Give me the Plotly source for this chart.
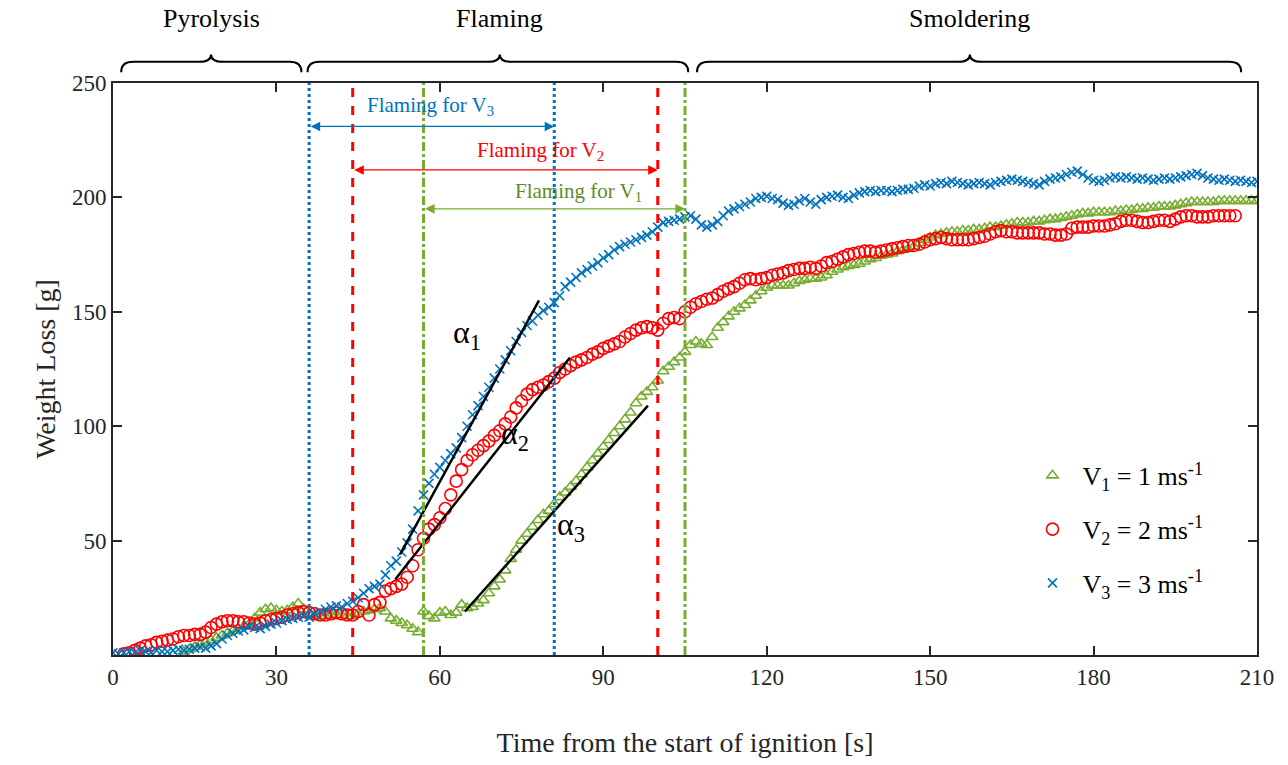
import plotly.graph_objects as go

# ---------------- data ----------------
t_v3 = list(range(0, 211))
w_v3 = [1.0, 0.5, 1.0, 1.5, 1.0, 2.0, 1.5, 1.0, 2.0, 1.5,
        1.5, 2.0, 2.5, 2.0, 2.5, 3.0, 3.5, 3.0, 4.0, 5.0,
        7.0, 8.5, 9.5, 10.5, 11.0, 12.5, 12.0, 11.5, 12.5, 13.5,
        14.0, 15.0, 15.5, 16.0, 16.5, 17.0, 16.5, 18.0, 19.0, 20.0,
        21.0, 21.5, 21.0, 22.5, 23.5, 25.0, 27.0, 29.0, 30.0, 31.0,
        35.0, 39.0, 41.0, 45.0, 49.0, 55.0, 63.0, 70.0, 75.0, 79.0,
        82.0, 85.0, 88.0, 90.5, 95.0, 100.0, 105.0, 109.0, 113.0, 117.0,
        121.0, 125.0, 129.0, 133.0, 137.0, 141.0, 144.0, 146.0, 148.5, 150.5,
        152.0, 154.0, 157.0, 161.0, 163.0, 165.0, 167.0, 168.5, 170.0, 171.5,
        173.5, 175.0, 177.0, 178.5, 179.5, 180.5, 181.5, 182.5, 183.5, 185.0,
        187.0, 189.0, 189.5, 190.0, 190.5, 191.5, 192.0, 190.5, 188.0, 187.0,
        188.0, 189.5, 192.0, 194.0, 195.0, 196.0, 197.0, 198.0, 199.5, 200.0,
        200.5, 199.5, 199.0, 197.5, 196.5, 197.0, 198.5, 199.5, 198.0, 197.0,
        199.0, 200.0, 200.5, 201.0, 200.0, 199.5, 201.0, 202.0, 202.5, 203.0,
        202.5, 203.0, 203.0, 202.5, 203.0, 203.5, 203.5, 204.0, 205.0, 205.5,
        205.0, 206.0, 206.5, 206.0, 207.0, 206.5, 206.0, 205.5, 206.0, 206.5,
        206.0, 205.5, 206.5, 207.0, 207.5, 208.0, 207.5, 207.0, 206.5, 206.0,
        205.5, 207.0, 208.0, 208.5, 209.0, 210.0, 211.0, 211.5, 210.0, 208.5,
        207.5, 207.0, 207.5, 208.5, 209.0, 208.5, 209.0, 208.5, 208.0, 208.5,
        208.0, 207.5, 208.0, 208.5, 208.0, 208.5, 209.0, 209.5, 210.0, 210.5,
        209.5, 208.5, 208.0, 207.5, 208.0, 207.5, 207.0, 207.5, 207.0, 206.5,
        207.0]

t_v2 = list(range(2, 207))
w_v2 = [0.5, 1.0, 2.0, 3.0, 4.0, 4.5, 5.5, 6.0, 6.5, 7.0,
        8.0, 8.5, 8.5, 9.0, 9.0, 10.0, 12.0, 13.5, 14.5, 15.0,
        15.0, 14.5, 14.5, 14.0, 13.5, 14.0, 15.0, 15.5, 16.0, 16.5,
        17.5, 18.0, 18.5, 19.0, 18.5, 18.0, 17.5, 17.5, 18.0, 18.5,
        18.0, 17.5, 17.5, 19.0, 22.0, 17.5, 22.0, 23.0, 28.0, 29.0,
        30.0, 31.0, 34.0, 39.0, 46.0, 51.0, 55.0, 57.0, 60.0, 64.0,
        70.0, 76.0, 81.0, 85.0, 87.5, 89.5, 91.5, 93.5, 96.0, 98.0,
        101.0, 104.0, 108.0, 111.0, 114.0, 116.0, 117.0, 118.0, 119.5, 121.0,
        123.5, 125.0, 126.5, 128.0, 129.0, 130.0, 131.5, 132.5, 134.0, 135.0,
        136.0, 137.0, 139.0, 140.5, 142.0, 143.0, 143.5, 143.0, 142.0, 145.0,
        147.0, 147.5, 147.0, 150.0, 152.0, 153.5, 154.5, 155.5, 156.0, 157.5,
        159.0, 160.0, 161.0, 162.5, 164.0, 164.5, 164.0, 164.5, 165.0, 166.0,
        166.5, 167.0, 168.0, 168.5, 169.0, 169.0, 169.5, 169.0, 170.0, 171.5,
        172.0, 173.0, 174.0, 175.0, 175.5, 176.0, 176.5, 176.5, 176.0, 176.5,
        177.0, 177.5, 178.0, 178.5, 179.0, 179.0, 179.5, 180.5, 181.5, 182.0,
        182.5, 182.0, 181.5, 181.5, 181.5, 181.5, 182.0, 182.5, 183.0, 184.0,
        185.0, 185.5, 185.0, 185.0, 184.5, 184.5, 184.5, 184.5, 184.5, 184.0,
        184.0, 183.5, 183.5, 184.0, 186.5, 187.0, 187.0, 187.0, 187.5, 187.5,
        187.5, 188.0, 188.5, 189.5, 190.0, 190.0, 189.5, 189.0, 189.0, 189.5,
        190.0, 190.0, 189.5, 190.5, 191.5, 192.0, 192.0, 191.5, 191.5, 191.5,
        192.0, 192.0, 192.0, 192.0, 192.0]

t_v1 = list(range(13, 211))
w_v1 = [1.5, 2.5, 3.5, 4.5, 5.5, 6.5, 7.5, 8.5, 9.5, 10.5,
        11.5, 12.5, 13.5, 16.0, 18.5, 20.0, 20.5, 19.5, 19.0, 19.5,
        21.0, 22.5, 20.0, 17.5, 17.0, 17.0, 17.0, 17.5, 17.5, 17.5,
        17.0, 17.0, 18.0, 19.0, 19.5, 20.0, 20.5, 19.0, 16.0, 15.0,
        14.0, 13.0, 11.5, 10.0, 19.0, 17.0, 16.0, 18.5, 19.0, 17.5,
        18.5, 22.0, 20.5, 21.0, 22.5, 24.0, 27.0, 30.0, 33.0, 37.0,
        42.0, 46.0, 50.0, 53.0, 56.0, 59.0, 61.5, 63.0, 66.0, 69.0,
        71.0, 73.5, 76.0, 79.0, 82.0, 85.0, 88.0, 91.0, 94.0, 97.0,
        100.0, 103.0, 106.0, 110.0, 113.0, 115.0, 117.0, 120.0, 124.0, 126.0,
        128.0, 130.0, 132.5, 135.5, 137.0, 136.0, 135.5, 139.0, 143.0, 145.5,
        148.0, 150.0, 151.5, 153.0, 155.0, 157.0, 159.0, 160.5, 161.5, 161.5,
        161.5, 161.5, 162.5, 163.5, 164.0, 164.5, 164.5, 165.0, 166.0, 167.5,
        168.5, 169.5, 170.0, 170.5, 171.0, 172.0, 173.0, 173.5, 174.5, 175.0,
        175.5, 176.5, 177.0, 177.5, 178.5, 180.0, 181.5, 182.5, 183.5, 184.0,
        184.5, 185.0, 185.0, 185.5, 185.5, 186.0, 186.0, 186.5, 187.0, 187.0,
        187.5, 188.0, 188.5, 189.0, 189.0, 189.0, 189.5, 189.5, 190.0, 190.5,
        190.5, 191.0, 191.5, 192.0, 192.5, 193.0, 193.0, 193.5, 193.5, 193.5,
        193.5, 194.0, 194.0, 194.5, 194.5, 195.0, 195.0, 195.5, 195.5, 196.0,
        196.0, 196.0, 196.5, 197.0, 197.5, 198.0, 198.0, 198.0, 198.0, 198.0,
        198.5, 198.5, 198.5, 198.5, 198.5, 198.5, 198.5, 198.5]

# tangent (slope) lines alpha_1..alpha_3: [x0, x1], [y0, y1]
tan1_t, tan1_w = [52.7, 78.2], [44.0, 155.0]
tan2_t, tan2_w = [51.8, 83.9], [33.0, 130.0]
tan3_t, tan3_w = [64.6, 98.2], [19.0, 109.0]

# flaming period boundaries [start, end] and arrow heights
flame_v3 = [36, 81]
flame_v2 = [44, 100]
flame_v1 = [57, 105]
arrow_y = {"v3": 231, "v2": 212, "v1": 195}

# phase brackets [start, tip, end]
phases = [("Pyrolysis", 1.5, 18.0, 34.6),
          ("Flaming", 35.7, 71.0, 105.6),
          ("Smoldering", 107.2, 157.3, 207.1)]

x_ticks = [0, 30, 60, 90, 120, 150, 180, 210]
y_ticks = [50, 100, 150, 200, 250]

C_GREEN = "#77AC30"
C_RED = "#FF0000"
C_BLUE = "#0072BD"
FONT = "Liberation Serif"
TXT = "#262626"

fig = go.Figure()

fig.add_trace(go.Scatter(
    x=t_v1, y=w_v1, mode="markers", name="V<sub>1</sub> = 1 ms<sup>-1</sup>",
    legendgroup="g1",
    marker=dict(symbol="triangle-up-open", size=10, color=C_GREEN,
                line=dict(width=1.6, color=C_GREEN))))
fig.add_trace(go.Scatter(
    x=t_v2, y=w_v2, mode="markers", name="V<sub>2</sub> = 2 ms<sup>-1</sup>",
    legendgroup="g2",
    marker=dict(symbol="circle-open", size=12, color=C_RED,
                line=dict(width=1.6, color=C_RED))))
fig.add_trace(go.Scatter(
    x=t_v3, y=w_v3, mode="markers", name="V<sub>3</sub> = 3 ms<sup>-1</sup>",
    legendgroup="g3",
    marker=dict(symbol="x-thin-open", size=9, color=C_BLUE,
                line=dict(width=1.6, color=C_BLUE))))

for tt, ww in [(tan1_t, tan1_w), (tan2_t, tan2_w), (tan3_t, tan3_w)]:
    fig.add_trace(go.Scatter(x=tt, y=ww, mode="lines", showlegend=False,
                             line=dict(color="black", width=2.5)))

# vertical boundary lines
for xs, col, dash in [(flame_v3, C_BLUE, "dot"), (flame_v2, C_RED, "dash"),
                      (flame_v1, C_GREEN, "dashdot")]:
    for xv in xs:
        fig.add_shape(type="line", xref="x", yref="y", x0=xv, x1=xv, y0=0, y1=250,
                      line=dict(color=col, width=3, dash=dash))

annos = []
# double arrows
for key, rng, col in [("v3", flame_v3, C_BLUE), ("v2", flame_v2, C_RED),
                      ("v1", flame_v1, C_GREEN)]:
    yv = arrow_y[key]
    annos.append(dict(x=rng[1], y=yv, ax=rng[0], ay=yv, xref="x", yref="y",
                      axref="x", ayref="y", text="", showarrow=True,
                      arrowhead=2, startarrowhead=2, arrowside="end+start",
                      arrowsize=1.6, arrowwidth=1.2, arrowcolor=col))
annos.append(dict(x=58.3, y=240, xref="x", yref="y", showarrow=False,
                  text="Flaming for V<sub>3</sub>",
                  font=dict(family=FONT, size=21, color=C_BLUE)))
annos.append(dict(x=78.5, y=220.5, xref="x", yref="y", showarrow=False,
                  text="Flaming for V<sub>2</sub>",
                  font=dict(family=FONT, size=21, color=C_RED)))
annos.append(dict(x=85.5, y=202.5, xref="x", yref="y", showarrow=False,
                  text="Flaming for V<sub>1</sub>",
                  font=dict(family=FONT, size=21, color="#5E8A2A")))
# alpha labels
for xa, ya, lab in [(65.0, 140, "α<sub>1</sub>"), (73.8, 96, "α<sub>2</sub>"),
                    (84.0, 56, "α<sub>3</sub>")]:
    annos.append(dict(x=xa, y=ya, xref="x", yref="y", showarrow=False, text=lab,
                      font=dict(family=FONT, size=32, color="black")))

# phase brackets
for name, a, m, b in phases:
    y_end, y_bar, y_tip = 1.019, 1.037, 1.050
    d = 2.2
    path = (f"M {a},{y_end} Q {a},{y_bar} {a+d},{y_bar} L {m-d},{y_bar} "
            f"Q {m},{y_bar} {m},{y_tip} Q {m},{y_bar} {m+d},{y_bar} "
            f"L {b-d},{y_bar} Q {b},{y_bar} {b},{y_end}")
    fig.add_shape(type="path", xref="x", yref="paper", path=path,
                  line=dict(color="black", width=2))
    annos.append(dict(x=m, y=1.112, xref="x", yref="paper", showarrow=False,
                      text=name, yanchor="middle",
                      font=dict(family=FONT, size=26, color="black")))

fig.update_layout(
    width=1288, height=765,
    margin=dict(l=113, r=31, t=83, b=110),
    paper_bgcolor="white", plot_bgcolor="white",
    font=dict(family=FONT, size=22, color=TXT),
    annotations=annos,
    showlegend=True,
    legend=dict(x=0.795, y=0.355, xanchor="left", yanchor="top",
                bgcolor="rgba(255,255,255,0)", borderwidth=0,
                font=dict(family=FONT, size=26, color="black"),
                itemwidth=50, tracegroupgap=17),
)
fig.update_xaxes(range=[0, 210], tickvals=x_ticks, ticks="inside", ticklen=9,
                 tickwidth=1.5, tickcolor=TXT, showline=True, linewidth=2,
                 linecolor=TXT, mirror="ticks", showgrid=False, zeroline=False,
                 tickfont=dict(family=FONT, size=23, color=TXT),
                 title=dict(text="Time from the start of ignition [s]", standoff=44,
                            font=dict(family=FONT, size=28, color=TXT)))
fig.update_yaxes(range=[0, 250], tickvals=y_ticks, ticks="inside", ticklen=9,
                 tickwidth=1.5, tickcolor=TXT, showline=True, linewidth=2,
                 linecolor=TXT, mirror="ticks", showgrid=False, zeroline=False,
                 tickfont=dict(family=FONT, size=23, color=TXT),
                 title=dict(text="Weight Loss [g]", standoff=8,
                            font=dict(family=FONT, size=28, color=TXT)))

fig.write_html("out.html")
